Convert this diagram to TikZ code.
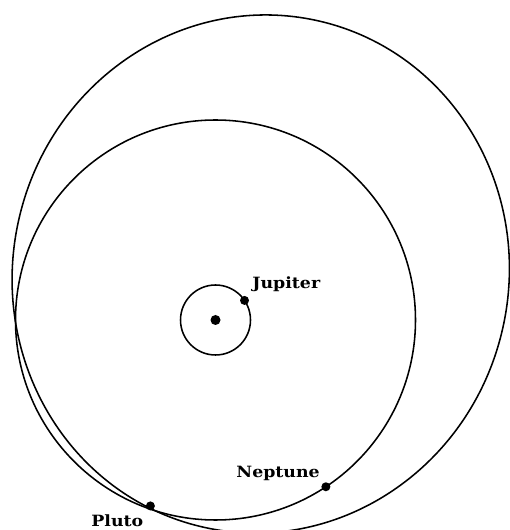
\documentclass[tikz,border=0pt]{standalone}
\usepackage{fontspec}
\newfontfamily\lblfont[FakeStretch=1.12]{DejaVu Serif}
\usetikzlibrary{positioning}
\tikzset{
  orbit/.style={draw=black, line width=1.55pt},
  body/.style={circle, fill=black, inner sep=0pt, minimum size=9pt},
  lbl/.style={font=\lblfont\bfseries\fontsize{15.5pt}{15.5pt}\selectfont, inner sep=0pt, anchor=base west},
}

\begin{document}
\begin{tikzpicture}[x=1pt, y=1pt]
  \useasboundingbox (0,0) rectangle (510,530);
  % orbits
  \coordinate (sun) at (215.5,210);
  \draw[orbit] (sun) circle[radius=35];
  \draw[orbit] (sun) circle[radius=200];
  \draw[orbit, rotate around={-13.3:(260.75,256)}] (260.75,256) ellipse[x radius=248, y radius=259.6];
  % bodies
  \node[body, minimum size=10pt] (sundot) at (sun) {};
  \node[body] (jup) at ([shift={(34:35)}]sun) {};
  \node[body] (nep) at ([shift={(-56.5:200)}]sun) {};
  \node[body] (plu) at ([shift={(250.7:197)}]sun) {};
  % labels
  \node[lbl] (jupl) at (252.2,241) {Jupiter};
  \node[lbl] (nepl) at (236.2,52.7) {Neptune};
  \node[lbl] (plul) at (91.2,3.5) {Pluto};
\end{tikzpicture}
\end{document}
